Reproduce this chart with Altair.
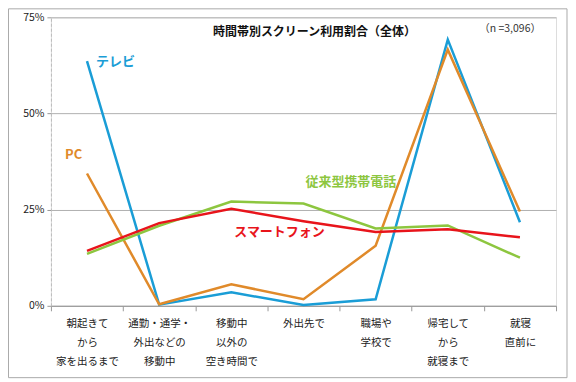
import altair as alt
import pandas as pd

categories = ["朝起きて|から|家を出るまで", "通勤・通学・|外出などの|移動中", "移動中|以外の|空き時間で",
              "外出先で", "職場や|学校で", "帰宅して|から|就寝まで", "就寝|直前に"]
series_names = ["テレビ", "PC", "従来型携帯電話", "スマートフォン"]
tv = [63.6, 0.3, 3.5, 0.2, 1.7, 69.2, 21.7]
pc = [34.4, 0.4, 5.6, 1.7, 15.6, 66.6, 24.5]
feature = [13.5, 20.8, 27.1, 26.6, 20.1, 20.9, 12.5]
smart = [14.3, 21.5, 25.2, 22.0, 19.2, 19.9, 17.8]
colors = ["#1A9DD6", "#E08A2A", "#8DC63F", "#E8141B"]

title_text = "時間帯別スクリーン利用割合（全体）"
n_text = "（n =3,096）"

rows = []
for name, vals in zip(series_names, [tv, pc, feature, smart]):
    for i, (c, v) in enumerate(zip(categories, vals)):
        rows.append({"cat": c, "value": v, "series": name, "order": i})
df = pd.DataFrame(rows)

# label annotations (category, value, dx)
labels = pd.DataFrame({
    "series": series_names,
    "cat": [categories[0], categories[0], categories[3], categories[2]],
    "value": [63.3, 39.2, 32.2, 19.2],
    "dx": [9, -22, 2, 3],
})

font = "Noto Sans CJK JP"
W, H = 506, 289

xscale = alt.Scale(type="band", domain=categories, paddingInner=0, paddingOuter=0)
yscale = alt.Scale(domain=[0, 75])
cscale = alt.Scale(domain=series_names, range=colors)

base = alt.Chart(df)

lines = base.mark_line(strokeWidth=2.5, clip=False).encode(
    x=alt.X("cat:N", scale=xscale, bandPosition=0.5, sort=categories,
            axis=alt.Axis(title=None, labelExpr="split(datum.label, '|')", labelAngle=0,
                          labelFont=font, labelFontSize=10.5, labelColor="#222",
                          labelLineHeight=19, labelPadding=8, tickBand="extent",
                          tickSize=5, tickColor="#999", domainColor="#999", grid=False,
                          labelBaseline="top")),
    y=alt.Y("value:Q", scale=yscale,
            axis=alt.Axis(title=None, values=[0, 25, 50, 75], labelExpr="datum.value + '%'",
                          labelFont=font, labelFontSize=10.5, labelColor="#222",
                          grid=True, gridColor="#b0b0b0", domainColor="#bbbbbb",
                          domainDash=[3, 2], tickSize=4, tickColor="#999", labelPadding=3)),
    color=alt.Color("series:N", scale=cscale, legend=None),
    detail="series:N",
    order="order:Q",
)

def label_layer(i):
    d = labels.iloc[[i]]
    align = "left"
    return alt.Chart(d).mark_text(font=font, fontSize=13, fontWeight="bold", align=align,
                                  dx=int(d["dx"].iloc[0]), baseline="middle").encode(
        x=alt.X("cat:N", scale=xscale, bandPosition=0.5, sort=categories),
        y=alt.Y("value:Q", scale=yscale),
        text="series:N",
        color=alt.Color("series:N", scale=cscale, legend=None),
    )

label_layers = [label_layer(i) for i in range(4)]

title = alt.Chart(pd.DataFrame({"t": [title_text]})).mark_text(
    font=font, fontSize=12, fontWeight="bold", color="#111", align="center", baseline="middle"
).encode(x=alt.value(264), y=alt.value(15), text="t:N")

ntext = alt.Chart(pd.DataFrame({"t": [n_text]})).mark_text(
    font=font, fontSize=10.5, color="#333", align="center", baseline="middle"
).encode(x=alt.value(460), y=alt.value(12), text="t:N")

border = alt.Chart(pd.DataFrame({"a": [0]})).mark_rect(
    fill=None, stroke="#aaaaaa", strokeWidth=1, clip=False
).encode(x=alt.value(-42.5), x2=alt.value(517), y=alt.value(-8.5), y2=alt.value(361))

chart = alt.layer(border, lines, *label_layers, title, ntext).properties(
    width=W, height=H,
    padding={"left": 43, "top": 9, "right": 12, "bottom": 73},
    autosize=alt.AutoSizeParams(type="none"),
).configure_view(stroke=None).configure(background="white")

chart.save("out.html", embed_options={"renderer": "svg", "actions": False})
